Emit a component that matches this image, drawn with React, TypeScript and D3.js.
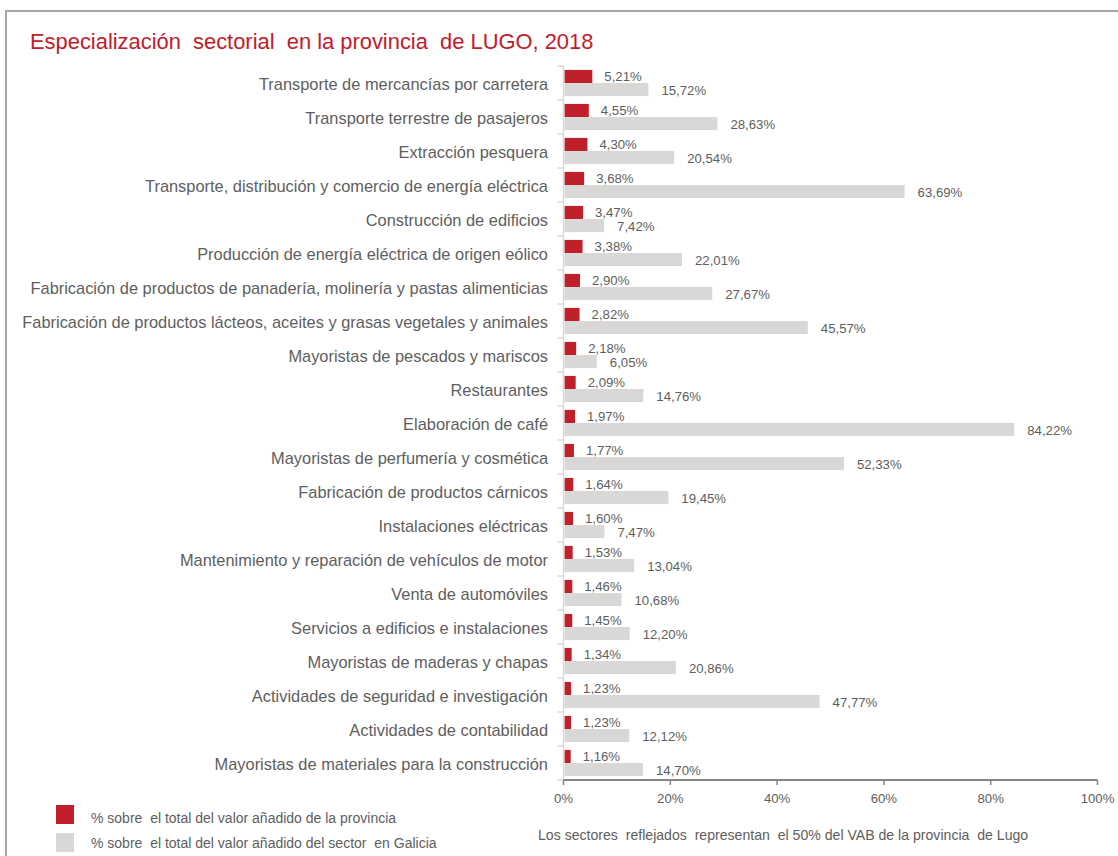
import React from "react";
import * as d3 from "d3";

const categories: string[] = [
  "Transporte de mercancías por carretera",
  "Transporte terrestre de pasajeros",
  "Extracción pesquera",
  "Transporte, distribución y comercio de energía eléctrica",
  "Construcción de edificios",
  "Producción de energía eléctrica de origen eólico",
  "Fabricación de productos de panadería, molinería y pastas alimenticias",
  "Fabricación de productos lácteos, aceites y grasas vegetales y animales",
  "Mayoristas de pescados y mariscos",
  "Restaurantes",
  "Elaboración de café",
  "Mayoristas de perfumería y cosmética",
  "Fabricación de productos cárnicos",
  "Instalaciones eléctricas",
  "Mantenimiento y reparación de vehículos de motor",
  "Venta de automóviles",
  "Servicios a edificios e instalaciones",
  "Mayoristas de maderas y chapas",
  "Actividades de seguridad e investigación",
  "Actividades de contabilidad",
  "Mayoristas de materiales para la construcción",
];

const provinciaValues: number[] = [
  5.21, 4.55, 4.3, 3.68, 3.47, 3.38, 2.9, 2.82, 2.18, 2.09, 1.97, 1.77, 1.64, 1.6,
  1.53, 1.46, 1.45, 1.34, 1.23, 1.23, 1.16,
];

const galiciaValues: number[] = [
  15.72, 28.63, 20.54, 63.69, 7.42, 22.01, 27.67, 45.57, 6.05, 14.76, 84.22, 52.33,
  19.45, 7.47, 13.04, 10.68, 12.2, 20.86, 47.77, 12.12, 14.7,
];

const xTicks: number[] = [0, 20, 40, 60, 80, 100];

const seriesNames: string[] = [
  "% sobre  el total del valor añadido de la provincia",
  "% sobre  el total del valor añadido del sector  en Galicia",
];

const title = "Especialización  sectorial  en la provincia  de LUGO, 2018";
const footnote =
  "Los sectores  reflejados  representan  el 50% del VAB de la provincia  de Lugo";

const RED = "#c0202a";
const GRAY = "#d9d8d6";
const TEXT = "#5e5e5e";
const FONT = "'Liberation Sans', Arial, sans-serif";

const fmt = (v: number) => v.toFixed(2).replace(".", ",") + "%";

export default function App() {
  const W = 1118;
  const H = 856;
  const x = d3.scaleLinear().domain([0, 100]).range([563.5, 1097.5]);
  const y = d3.scaleBand<string>().domain(categories).range([66, 780]).padding(0);
  const sub = d3
    .scaleBand<string>()
    .domain(["prov", "gal"])
    .range([0, y.bandwidth()])
    .paddingInner(0)
    .paddingOuter(0.3);

  const boundaries = d3.range(categories.length + 1).map((i) => 66 + i * y.step());

  return (
    <svg
      width={W}
      height={H}
      style={{ position: "absolute", left: 0, top: 0, background: "#fff" }}
      fontFamily={FONT}
    >
      {/* frame */}
      <path d={`M6,${H + 5} L6,11 L${W + 5},11`} fill="none" stroke="#a6a6a6" strokeWidth={2} />

      <text x={30} y={48.5} fill={RED} fontSize={21.9} style={{ whiteSpace: "pre" }}>
        {title}
      </text>

      {/* category labels */}
      {categories.map((c) => (
        <text
          key={c}
          x={548}
          y={(y(c) as number) + y.bandwidth() / 2 + 6.5}
          textAnchor="end"
          fontSize={16.4}
          fill={TEXT}
        >
          {c}
        </text>
      ))}

      {/* bars */}
      {categories.map((c, i) => {
        const y0 = y(c) as number;
        const yr = y0 + (sub("prov") as number);
        const yg = y0 + (sub("gal") as number);
        const bh = sub.bandwidth();
        const pv = provinciaValues[i];
        const gv = galiciaValues[i];
        return (
          <g key={"b" + c}>
            <rect x={x(0) + 1} y={yg} width={x(gv) - x(0)} height={bh} fill={GRAY} />
            <rect x={x(0) + 1} y={yr} width={x(pv) - x(0)} height={bh} fill={RED} />
            <text x={x(pv) + 13} y={yr + bh / 2 + 5} fontSize={13.2} fill={TEXT}>
              {fmt(pv)}
            </text>
            <text x={x(gv) + 14} y={yg + bh / 2 + 5.5} fontSize={13.2} fill={TEXT}>
              {fmt(gv)}
            </text>
          </g>
        );
      })}

      {/* y axis */}
      <line x1={x(0)} x2={x(0)} y1={66} y2={780} stroke="#d9d9d9" strokeWidth={1.5} />
      {boundaries.map((b, i) => (
        <line key={"t" + i} x1={x(0) - 6} x2={x(0)} y1={b} y2={b} stroke="#d9d9d9" strokeWidth={1.5} />
      ))}

      {/* x axis */}
      <line x1={x(0)} x2={x(100)} y1={780} y2={780} stroke="#868686" strokeWidth={2} />
      {xTicks.map((t) => (
        <g key={"x" + t}>
          <line x1={x(t)} x2={x(t)} y1={780} y2={785} stroke="#868686" strokeWidth={1.5} />
          <text x={x(t)} y={803} textAnchor="middle" fontSize={13.2} fill={TEXT}>
            {t + "%"}
          </text>
        </g>
      ))}

      {/* legend */}
      <rect x={56} y={805} width={18} height={19} fill={RED} />
      <rect x={56} y={833} width={18} height={19} fill={GRAY} />
      <text x={91} y={823} fontSize={14} fill={TEXT} style={{ whiteSpace: "pre" }}>
        {seriesNames[0]}
      </text>
      <text x={91} y={848} fontSize={14} fill={TEXT} style={{ whiteSpace: "pre" }}>
        {seriesNames[1]}
      </text>

      <text x={538} y={840} fontSize={14.1} fill={TEXT} style={{ whiteSpace: "pre" }}>
        {footnote}
      </text>
    </svg>
  );
}
